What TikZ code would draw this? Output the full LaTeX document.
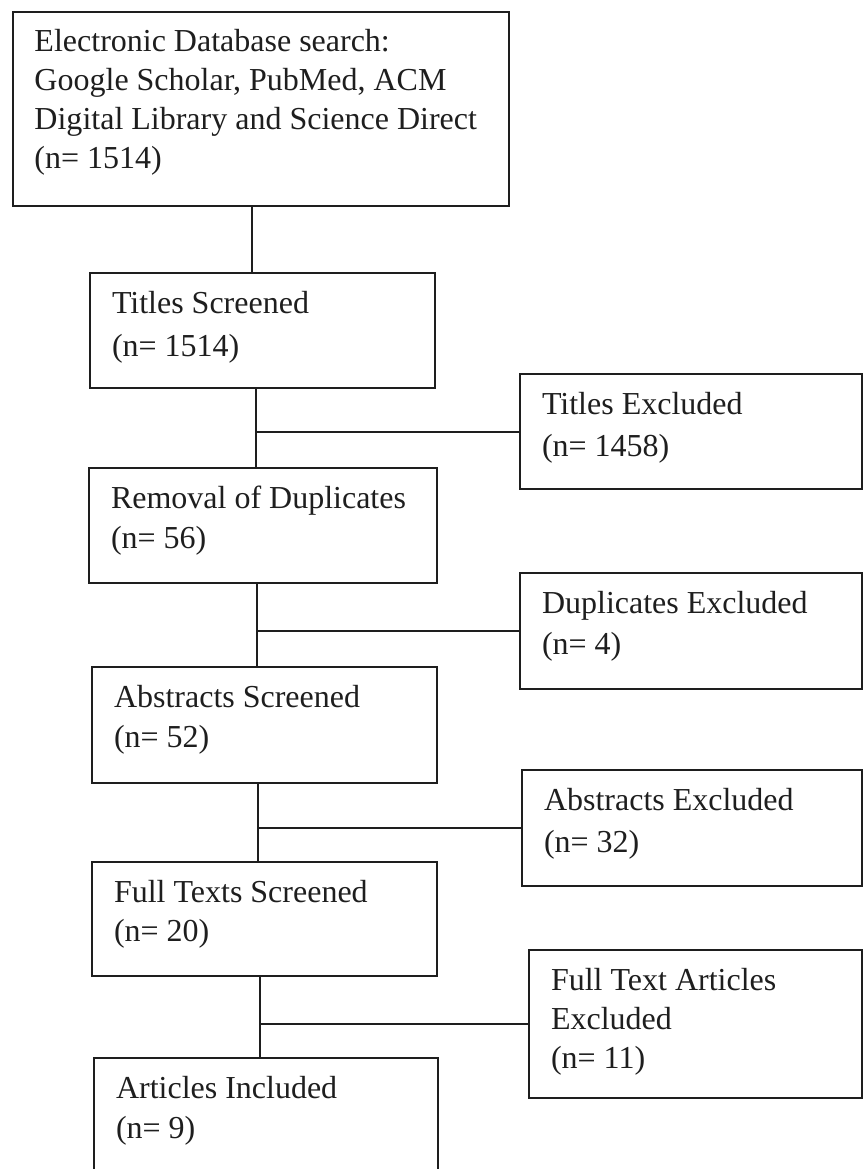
\documentclass[tikz,border=0pt]{standalone}
\usepackage{fontspec}
\setmainfont{Liberation Serif}
\usetikzlibrary{calc}
\definecolor{ink}{HTML}{1E1E1E}
\tikzset{
  box/.style={draw=ink, line width=2pt, inner sep=0pt, anchor=north west},
  link/.style={draw=ink, line width=2pt},
}
\newcommand\boxcontent[4]{%
  \parbox[t][#2][t]{#1}{\raggedright\leftskip=22pt\relax
    \fontsize{32}{#3}\selectfont\color{ink}\rule{0pt}{40pt}#4}}
\begin{document}
\begin{tikzpicture}[x=1pt,y=-1pt]
\useasboundingbox (0,0) rectangle (863,1169);
\clip (0,0) rectangle (863,1169);

\node[box] (b1) at (11.5,11) {\boxcontent{496.5pt}{194pt}{39pt}{Electronic Database search:\\Google Scholar, PubMed, ACM\\Digital Library and Science Direct\\(n= 1514)}};
\node[box] (b2) at (89,272) {\boxcontent{345pt}{115pt}{43pt}{Titles Screened\\(n= 1514)}};
\node[box] (te) at (519,373) {\boxcontent{342pt}{115pt}{42pt}{Titles Excluded\\(n= 1458)}};
\node[box] (b3) at (88,467) {\boxcontent{348pt}{115pt}{40pt}{Removal of Duplicates\\(n= 56)}};
\node[box] (de) at (519,572) {\boxcontent{342pt}{116pt}{41pt}{Duplicates Excluded\\(n= 4)}};
\node[box] (b4) at (91,666) {\boxcontent{345pt}{116pt}{40pt}{Abstracts Screened\\(n= 52)}};
\node[box] (ae) at (521,769) {\boxcontent{340pt}{116pt}{42pt}{Abstracts Excluded\\(n= 32)}};
\node[box] (b5) at (91,861) {\boxcontent{345pt}{114pt}{39pt}{Full Texts Screened\\(n= 20)}};
\node[box] (fe) at (528,949) {\boxcontent{333pt}{148pt}{39pt}{Full Text Articles\\Excluded\\(n= 11)}};
\node[box] (b6) at (93,1057) {\boxcontent{344pt}{140pt}{40pt}{Articles Included\\(n= 9)}};

\coordinate (k1) at (252,0);
\coordinate (k2) at (256,0);
\coordinate (k3) at (257,0);
\coordinate (k4) at (258,0);
\coordinate (k5) at (259.5,0);

\draw[link] (b1.south -| k1) -- (b2.north -| k1);
\draw[link] (b2.south -| k2) -- (b3.north -| k2);
\draw[link] (te.west -| k2) -- (te.west);
\draw[link] (b3.south -| k3) -- (b4.north -| k3);
\draw[link] (de.west -| k3) -- (de.west);
\draw[link] (b4.south -| k4) -- (b5.north -| k4);
\draw[link] (ae.west -| k4) -- (ae.west);
\draw[link] (b5.south -| k5) -- (b6.north -| k5);
\draw[link] (fe.west -| k5) -- (fe.west);
\end{tikzpicture}
\end{document}
